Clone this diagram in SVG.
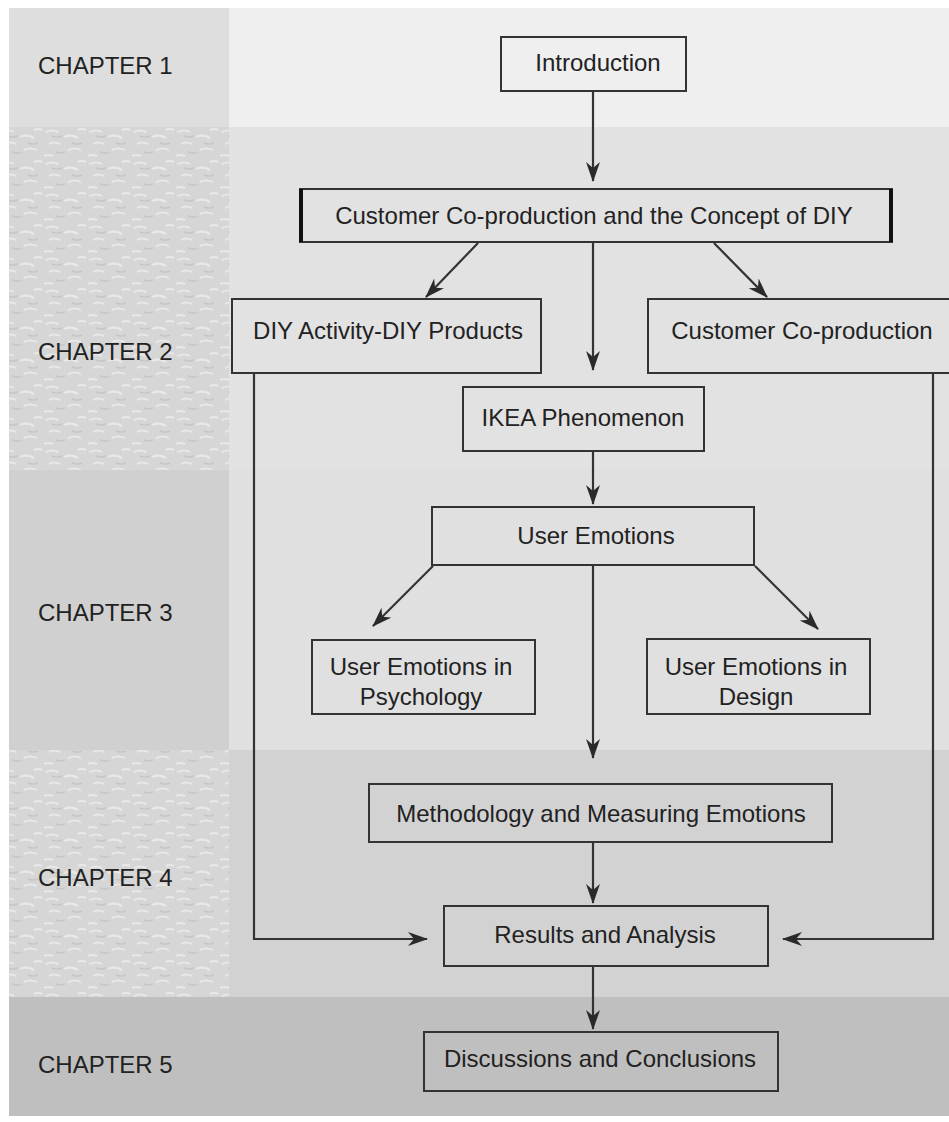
<svg xmlns="http://www.w3.org/2000/svg" width="949" height="1122" viewBox="0 0 949 1122">
<defs>
<style>
.box{fill:none;stroke:#333;stroke-width:2}
.t{font-family:"Liberation Sans",Arial,sans-serif;font-size:24px;fill:#222;text-anchor:middle}
.ch{font-family:"Liberation Sans",Arial,sans-serif;font-size:24px;fill:#222}
.c{fill:none;stroke:#333;stroke-width:2.2}
</style>
<marker id="ah" viewBox="0 0 20 14" markerWidth="20" markerHeight="14" refX="19" refY="7" orient="auto" markerUnits="userSpaceOnUse">
<path d="M0,0 L20,7 L0,14 L6,7 Z" fill="#2a2a2a"/>
</marker>
<pattern id="tex" width="44" height="32" patternUnits="userSpaceOnUse">
<rect width="44" height="32" fill="#d6d6d6"/>
<path d="M2,4 q6,-3 12,0 M20,9 q7,-3 14,1 M5,16 q5,-3 11,0 M24,22 q6,-3 13,0 M0,28 q4,-2 9,0 M34,2 q4,-2 8,0" stroke="#e8e8e8" stroke-width="2.2" fill="none"/>
<path d="M8,8 q5,2 10,0 M28,15 q5,2 10,0 M12,24 q5,2 9,0" stroke="#c6c6c6" stroke-width="1.5" fill="none"/>
</pattern>
</defs>
<rect width="949" height="1122" fill="#ffffff"/>
<g id="bands">
<rect x="9" y="8" width="940" height="119" fill="#efefef"/>
<rect x="9" y="8" width="220" height="119" fill="#dedede"/>
<rect x="9" y="127" width="940" height="343" fill="#e2e2e2"/>
<rect x="9" y="127" width="220" height="343" fill="url(#tex)"/>
<rect x="9" y="470" width="940" height="280" fill="#e0e0e0"/>
<rect x="9" y="470" width="220" height="280" fill="#d0d0d0"/>
<rect x="9" y="750" width="940" height="247" fill="#d2d2d2"/>
<rect x="9" y="750" width="220" height="247" fill="url(#tex)"/>
<rect x="9" y="997" width="940" height="119" fill="#bfbfbf"/>
<text class="ch" x="38" y="74">CHAPTER 1</text>
<text class="ch" x="38" y="360">CHAPTER 2</text>
<text class="ch" x="38" y="621">CHAPTER 3</text>
<text class="ch" x="38" y="886">CHAPTER 4</text>
<text class="ch" x="38" y="1073">CHAPTER 5</text>
</g>
<g id="connectors">
<line class="c" x1="593" y1="91" x2="593" y2="181" marker-end="url(#ah)"/>
<line class="c" x1="478" y1="243" x2="426" y2="297" marker-end="url(#ah)"/>
<line class="c" x1="593" y1="243" x2="593" y2="370" marker-end="url(#ah)"/>
<line class="c" x1="714" y1="243" x2="767" y2="297" marker-end="url(#ah)"/>
<line class="c" x1="593" y1="452" x2="593" y2="504" marker-end="url(#ah)"/>
<line class="c" x1="433" y1="566" x2="373" y2="626" marker-end="url(#ah)"/>
<line class="c" x1="593" y1="566" x2="593" y2="758" marker-end="url(#ah)"/>
<line class="c" x1="755" y1="566" x2="818" y2="629" marker-end="url(#ah)"/>
<line class="c" x1="593" y1="843" x2="593" y2="903" marker-end="url(#ah)"/>
<line class="c" x1="593" y1="966" x2="593" y2="1029" marker-end="url(#ah)"/>
<polyline class="c" points="254,373 254,939 427,939" marker-end="url(#ah)"/>
<polyline class="c" points="933,373 933,939 783,939" marker-end="url(#ah)"/>
</g>
<g id="n-intro"><rect class="box" x="501" y="37" width="185" height="54"/><text class="t" x="598" y="71">Introduction</text></g>
<g id="n-concept"><rect class="box" x="300" y="189" width="592" height="53"/><line x1="301" y1="189" x2="301" y2="242" stroke="#111" stroke-width="4"/><line x1="891" y1="189" x2="891" y2="242" stroke="#111" stroke-width="4"/><text class="t" x="594" y="224">Customer Co-production and the Concept of DIY</text></g>
<g id="n-diy"><rect class="box" x="232" y="299" width="309" height="74"/><text class="t" x="388" y="339">DIY Activity-DIY Products</text></g>
<g id="n-cocp"><rect class="box" x="648" y="299" width="302" height="74"/><text class="t" x="802" y="339">Customer Co-production</text></g>
<g id="n-ikea"><rect class="box" x="463" y="387" width="241" height="64"/><text class="t" x="583" y="426">IKEA Phenomenon</text></g>
<g id="n-ue"><rect class="box" x="432" y="507" width="322" height="58"/><text class="t" x="596" y="544">User Emotions</text></g>
<g id="n-psy"><rect class="box" x="312" y="640" width="223" height="74"/><text class="t" x="421" y="675">User Emotions in</text><text class="t" x="421" y="705">Psychology</text></g>
<g id="n-des"><rect class="box" x="647" y="639" width="223" height="75"/><text class="t" x="756" y="675">User Emotions in</text><text class="t" x="756" y="705">Design</text></g>
<g id="n-meth"><rect class="box" x="369" y="784" width="463" height="58"/><text class="t" x="601" y="822">Methodology and Measuring Emotions</text></g>
<g id="n-res"><rect class="box" x="444" y="906" width="324" height="60"/><text class="t" x="605" y="943">Results and Analysis</text></g>
<g id="n-disc"><rect class="box" x="424" y="1032" width="354" height="59"/><text class="t" x="600" y="1067">Discussions and Conclusions</text></g>
</svg>
